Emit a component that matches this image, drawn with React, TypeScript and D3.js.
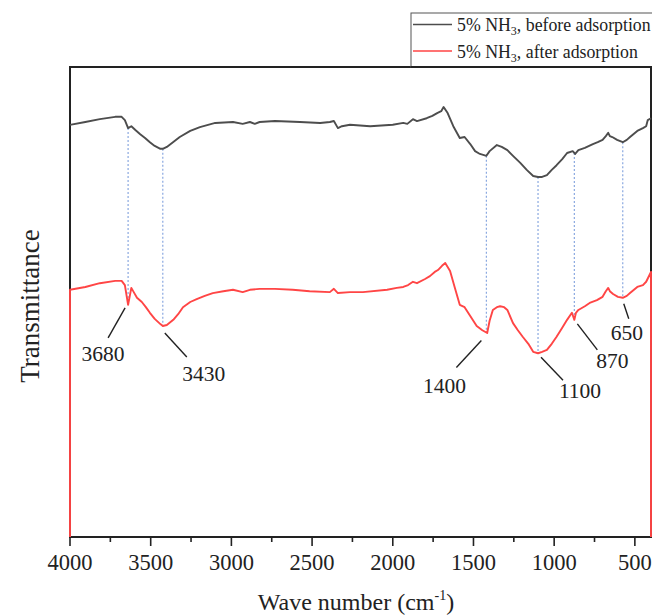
import React from "react";
import * as d3 from "d3";

// ---- data (wavenumber cm^-1, transmittance a.u.) ----
const blackWn = [4000,3905,3815,3720,3680,3660,3640,3620,3595,3565,3535,3505,3475,3440,3425,3400,3370,3320,3255,3195,3100,2990,2930,2885,2855,2825,2730,2575,2450,2390,2365,2340,2315,2265,2140,2000,1935,1910,1875,1850,1790,1755,1725,1700,1685,1660,1625,1585,1555,1520,1490,1460,1420,1400,1355,1325,1290,1255,1210,1170,1130,1100,1075,1045,1015,985,950,920,885,870,850,810,760,730,700,680,665,655,640,610,575,550,530,485,450,430,420,400];
const blackT = [87.7,88.3,88.9,89.4,89.4,88.7,87.0,87.4,86.6,85.7,84.9,84.0,83.2,82.6,82.6,83.0,83.8,85.1,86.4,87.2,88.1,88.3,87.9,88.3,87.9,88.3,88.5,88.3,88.1,88.3,88.5,87.0,87.4,87.7,87.4,87.7,88.1,87.9,88.9,88.5,89.1,89.6,90.2,90.6,91.5,90.2,87.4,84.9,85.1,83.6,82.1,81.5,81.1,82.1,83.4,83.0,82.3,81.1,79.6,78.1,76.8,76.6,76.6,77.0,78.1,79.1,80.4,81.7,82.1,81.5,82.3,82.8,83.6,84.0,84.5,85.3,86.0,85.3,85.1,84.5,84.0,84.5,85.1,86.4,87.0,87.4,88.7,89.1];

const redWn = [4000,4000,3905,3815,3720,3680,3660,3640,3620,3605,3585,3555,3530,3505,3475,3440,3425,3400,3360,3330,3300,3255,3215,3165,3115,3050,2990,2930,2885,2825,2730,2620,2515,2390,2365,2340,2265,2185,2035,1975,1935,1905,1875,1850,1800,1770,1740,1720,1695,1675,1645,1615,1585,1555,1520,1480,1445,1415,1400,1380,1355,1335,1310,1290,1255,1225,1195,1160,1130,1100,1075,1045,1015,985,950,920,890,875,865,850,810,780,735,700,680,665,655,635,605,575,550,530,485,450,430,410,400,400];
const redT = [0,52.6,53.2,54.0,54.5,54.5,53.6,49.4,53.0,52.1,50.9,50.0,48.9,47.7,46.4,45.3,44.9,45.1,46.2,47.4,48.9,50.0,50.6,51.3,51.9,52.3,52.6,52.1,52.6,52.8,52.8,52.6,52.3,52.1,52.8,51.9,52.1,52.1,52.6,53.0,53.2,53.6,54.3,54.0,54.9,55.5,56.4,56.8,57.7,58.3,56.6,53.0,49.4,48.9,47.0,44.9,44.0,43.4,46.0,48.3,48.9,49.1,48.9,48.3,45.5,44.0,42.6,41.1,39.4,39.1,39.4,39.8,41.1,42.6,44.5,46.2,47.7,46.2,47.7,48.3,49.1,49.8,50.4,51.1,52.3,53.0,52.3,51.7,51.1,50.9,51.3,51.9,53.2,53.6,54.3,55.7,56.4,0];

const markerWn = [3640, 3425, 1420, 1100, 875, 575];
const markerLabels = ["3680", "3430", "1400", "1100", "870", "650"];
const tickValues = [4000, 3500, 3000, 2500, 2000, 1500, 1000, 500];
const minorTicks = [3750, 3250, 2750, 2250, 1750, 1250, 750];
const seriesNames = ["5% NH", "5% NH"];
const seriesSuffix = [", before adsorption", ", after adsorption"];

// layout offsets for annotation leader lines / labels (relative to red point)
const annot = [
  { l: [-3, 3, -20, 33], t: [-25, 56] },
  { l: [2, 7, 24, 31], t: [41, 55] },
  { l: [-5, 8, -30, 35], t: [-42, 60] },
  { l: [3, 4, 25, 27], t: [42, 45] },
  { l: [3, 4, 23, 30], t: [38, 48] },
  { l: [1, 6, 6, 21], t: [4, 42] },
];

const W = 652, H = 615;
const L = 70, R = 651, T = 67, B = 537;
const FONT = "'Liberation Serif', 'Times New Roman', serif";

function interp(wn: number[], v: number[], x: number) {
  for (let i = 0; i < wn.length - 1; i++) {
    const a = wn[i], b = wn[i + 1];
    if ((x <= a && x >= b) && a !== b) {
      const f = (a - x) / (a - b);
      return v[i] + f * (v[i + 1] - v[i]);
    }
  }
  return v[0];
}

export default function App() {
  const x = d3.scaleLinear().domain([4000, 400]).range([L, R]);
  const y = d3.scaleLinear().domain([0, 100]).range([B, T]);
  const line = d3.line<[number, number]>().x(d => x(d[0])).y(d => y(d[1]));
  const blackData = blackWn.map((w, i) => [w, blackT[i]] as [number, number]);
  const redData = redWn.map((w, i) => [w, redT[i]] as [number, number]);
  const redInnerWn = redWn.slice(1, -1);
  const redInnerT = redT.slice(1, -1);

  return (
    <svg width={W} height={H} style={{ position: "absolute", left: 0, top: 0, background: "#fff" }} fontFamily={FONT}>
      <rect x={0} y={0} width={W} height={H} fill="#fff" />
      {/* dotted markers */}
      {markerWn.map((w, i) => (
        <line key={"m" + i} x1={x(w)} x2={x(w)}
          y1={y(interp(blackWn, blackT, w))} y2={y(interp(redInnerWn, redInnerT, w))}
          stroke="#8aa8e0" strokeWidth={1.2} strokeDasharray="2,2" />
      ))}
      {/* frame */}
      <rect x={L} y={T} width={R - L} height={B - T} fill="none" stroke="#222" strokeWidth={2} />
      {/* curves */}
      <path d={line(blackData) || ""} fill="none" stroke="#4d4d4d" strokeWidth={1.9} strokeLinejoin="round" />
      <path d={line(redData) || ""} fill="none" stroke="#ff4545" strokeWidth={1.9} strokeLinejoin="round" />
      {/* annotations */}
      {markerWn.map((w, i) => {
        const px = x(w), py = y(interp(redInnerWn, redInnerT, w));
        const a = annot[i];
        return (
          <g key={"a" + i}>
            <line x1={px + a.l[0]} y1={py + a.l[1]} x2={px + a.l[2]} y2={py + a.l[3]} stroke="#222" strokeWidth={1.4} />
            <text x={px + a.t[0]} y={py + a.t[1]} textAnchor="middle" fontSize={21.5} fill="#222">{markerLabels[i]}</text>
          </g>
        );
      })}
      {/* x axis ticks */}
      {tickValues.map(t => (
        <g key={"t" + t}>
          <line x1={x(t)} x2={x(t)} y1={B} y2={B + 9} stroke="#222" strokeWidth={1.6} />
          <text x={x(t)} y={B + 33} textAnchor="middle" fontSize={22.5} fill="#222">{t}</text>
        </g>
      ))}
      {minorTicks.map(t => (
        <line key={"mt" + t} x1={x(t)} x2={x(t)} y1={B} y2={B + 5} stroke="#222" strokeWidth={1.6} />
      ))}
      <text x={356} y={610} textAnchor="middle" fontSize={24} fill="#222">
        Wave number (cm<tspan fontSize={14} dy={-10}>-1</tspan><tspan dy={10}>)</tspan>
      </text>
      <text transform={`translate(39,${(T + B) / 2 + 4}) rotate(-90)`} textAnchor="middle" fontSize={27} fill="#222">Transmittance</text>
      {/* legend */}
      <rect x={411} y={13} width={260} height={54} fill="#fff" stroke="#555" strokeWidth={1} />
      {seriesNames.map((n, i) => (
        <g key={"l" + i}>
          <line x1={413} x2={452} y1={24.5 + i * 26.5} y2={24.5 + i * 26.5} stroke={i === 0 ? "#4d4d4d" : "#ff4545"} strokeWidth={1.5} />
          <text x={457} y={31 + i * 26.5} fontSize={17.8} fill="#222">
            {n}<tspan fontSize={12} dy={4}>3</tspan><tspan dy={-4}>{seriesSuffix[i]}</tspan>
          </text>
        </g>
      ))}
      <line x1={411} x2={W} y1={T} y2={T} stroke="#222" strokeWidth={2} />
    </svg>
  );
}
